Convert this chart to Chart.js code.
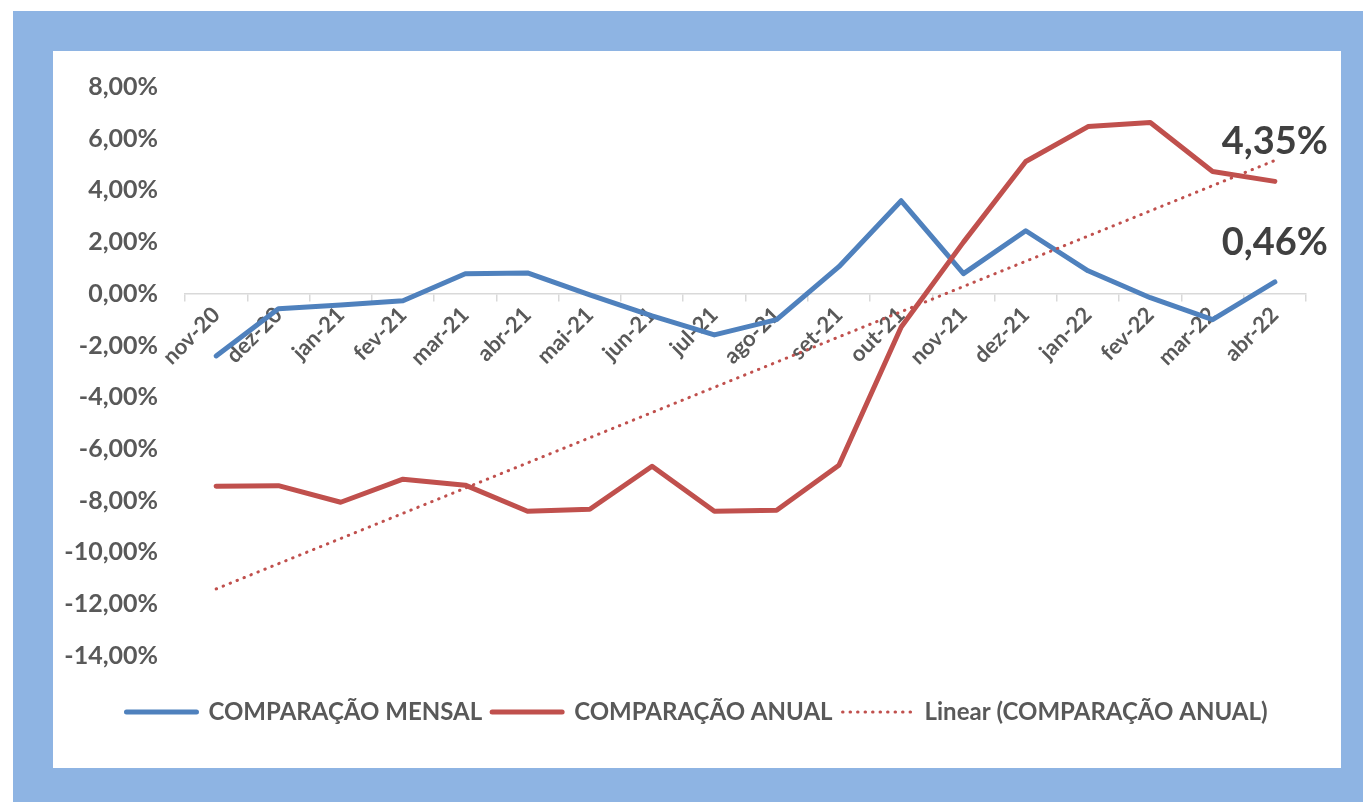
<!DOCTYPE html>
<html>
<head>
<meta charset="utf-8">
<script src="https://cdn.jsdelivr.net/npm/chart.js@4"></script>
<style>
body{margin:0;background:#fff;}
#frame{position:absolute;left:13px;top:11px;width:1350px;height:791px;background:#8EB4E3;}
#inner{position:absolute;left:40px;top:40px;width:1288px;height:717px;background:#fff;}
</style>
</head>
<body>
<div id="frame"><div id="inner"><canvas id="chart" width="1288" height="717"></canvas></div></div>
<script>
const meses = ['nov-20','dez-20','jan-21','fev-21','mar-21','abr-21','mai-21','jun-21','jul-21','ago-21','set-21','out-21','nov-21','dez-21','jan-22','fev-22','mar-22','abr-22'];

const mensal = [-2.40,-0.58,-0.43,-0.27,0.78,0.81,-0.04,-0.85,-1.59,-1.00,1.05,3.60,0.78,2.44,0.89,-0.15,-1.00,0.46];

const anual = [-7.44,-7.42,-8.06,-7.17,-7.40,-8.41,-8.33,-6.67,-8.41,-8.37,-6.63,-1.28,2.00,5.12,6.47,6.63,4.73,4.35];

const yTicks = {min:-14, max:8, step:2};

// linha de tendencia (minimos quadrados sobre a serie anual)
const n = anual.length;
const mx = (n - 1) / 2;
const my = anual.reduce((a,b)=>a+b,0) / n;
let sxy = 0, sxx = 0;
anual.forEach((v,i)=>{ sxy += (i-mx)*(v-my); sxx += (i-mx)*(i-mx); });
const slope = sxy / sxx;
const tendencia = anual.map((v,i)=> my + slope*(i-mx));

const fmt = v => v.toFixed(2).replace('.', ',') + '%';
const cinza = '#595959';

const lastLabels = {
  id:'lastLabels',
  afterDatasetsDraw(chart){
    const ctx = chart.ctx;
    ctx.save();
    ctx.font = 'bold 38px Lato';
    ctx.fillStyle = '#404040';
    ctx.textAlign = 'center';
    ctx.textBaseline = 'alphabetic';
    [0,1].forEach(i=>{
      const meta = chart.getDatasetMeta(i);
      const k = meta.data.length - 1;
      const pt = meta.data[k];
      ctx.fillText(fmt(chart.data.datasets[i].data[k]), pt.x, pt.y - 27);
    });
    ctx.restore();
  }
};

new Chart(document.getElementById('chart'), {
  type:'line',
  data:{
    labels:meses,
    datasets:[{
      label:'COMPARAÇÃO MENSAL',
      data:mensal,
      borderColor:'#4F81BD',
      borderWidth:5,
      borderCapStyle:'round',
      borderJoinStyle:'round',
      pointRadius:0,
      tension:0,
      order:3
    },{
      label:'COMPARAÇÃO ANUAL',
      data:anual,
      borderColor:'#C0504D',
      borderWidth:5,
      borderCapStyle:'round',
      borderJoinStyle:'round',
      pointRadius:0,
      tension:0,
      order:2
    },{
      label:'Linear (COMPARAÇÃO ANUAL)',
      data:tendencia,
      borderColor:'#C0504D',
      borderWidth:3,
      borderDash:[0.5,7],
      borderCapStyle:'round',
      pointRadius:0,
      tension:0,
      order:1
    }]
  },
  options:{
    responsive:false,
    animation:false,
    layout:{ padding:{ left:0, right:0, top:36, bottom:34 } },
    plugins:{
      tooltip:{ enabled:false },
      legend:{
        position:'bottom',
        title:{ display:true, text:'', font:{size:1}, padding:{top:33, bottom:0} },
        labels:{
          usePointStyle:true,
          pointStyleWidth:70,
          boxHeight:10,
          padding:10,
          color:cinza,
          font:{ family:'Lato', weight:'bold', size:24 },
          generateLabels(chart){
            return chart.data.datasets.map((ds,i)=>({
              text:ds.label,
              strokeStyle:ds.borderColor,
              fillStyle:ds.borderColor,
              lineWidth:ds.borderWidth,
              lineDash:ds.borderDash || [],
              lineCap:'round',
              pointStyle:'line',
              fontColor:cinza,
              datasetIndex:i
            }));
          }
        }
      }
    },
    scales:{
      x:{
        position:{ y:0 },
        offset:true,
        afterFit(s){ s.paddingRight = 35; },
        grid:{ display:true, offset:true, drawOnChartArea:false, drawTicks:true, tickLength:7, color:'#D9D9D9', lineWidth:1.5 },
        border:{ display:true, color:'#D9D9D9', width:1.5 },
        ticks:{ minRotation:45, maxRotation:45, padding:1, color:cinza, font:{ family:'Lato', weight:'bold', size:22 } }
      },
      y:{
        min:yTicks.min,
        max:yTicks.max,
        afterFit(s){ s.width = 132; s.paddingTop = 15; s.paddingBottom = 15; },
        grid:{ display:false, drawTicks:false },
        border:{ display:false },
        ticks:{ stepSize:yTicks.step, padding:27, color:cinza, font:{ family:'Lato', weight:'bold', size:25 }, callback:v=>fmt(v) }
      }
    }
  },
  plugins:[lastLabels]
});
</script>
</body>
</html>
